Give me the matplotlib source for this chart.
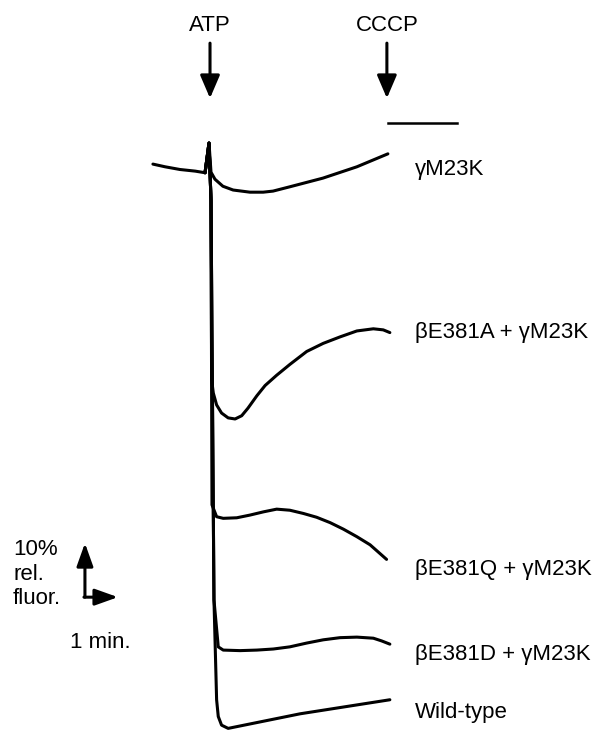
import matplotlib
matplotlib.use("Agg")
import matplotlib.pyplot as plt

plt.rcParams["font.family"] = ["Liberation Sans", "DejaVu Sans"]

# --- traces: time (min, ATP added at 0) vs relative fluorescence (%) ---
t_m23k = [-1.73, -1.36, -0.91, -0.45, -0.15, -0.03, 0.03, 0.15, 0.39, 0.70, 1.21,
          1.61, 1.91, 2.42, 3.42, 4.45, 5.39]
f_m23k = [104.8, 104.3, 103.8, 103.5, 103.2, 108.7, 103.3, 102.0, 100.7, 100.0, 99.6,
          99.6, 99.8, 100.6, 102.2, 104.3, 106.7]

t_e381a = [-0.15, -0.03, 0.03, 0.05, 0.10, 0.20, 0.35, 0.55, 0.76, 0.96, 1.15, 1.42,
           1.67, 2.02, 2.42, 2.93, 3.43, 3.94, 4.45, 4.95, 5.25, 5.45]
f_e381a = [103.2, 108.7, 98.1, 64.8, 62.4, 60.2, 58.7, 57.8, 57.6, 58.2, 59.6, 61.9,
           63.8, 65.7, 67.7, 70.1, 71.6, 72.8, 73.9, 74.3, 74.1, 73.6]

t_e381q = [-0.15, -0.03, 0.03, 0.06, 0.20, 0.40, 0.81, 1.21, 1.62, 2.02, 2.42, 2.83,
           3.23, 3.64, 4.04, 4.45, 4.85, 5.35]
f_e381q = [103.2, 108.7, 98.1, 41.7, 39.5, 39.2, 39.3, 39.8, 40.4, 40.9, 40.7, 40.1,
           39.4, 38.4, 37.2, 35.8, 34.3, 31.6]

t_e381d = [-0.15, -0.03, 0.03, 0.12, 0.25, 0.40, 0.91, 1.42, 1.92, 2.42, 2.93, 3.43,
           3.94, 4.45, 4.95, 5.20, 5.45]
f_e381d = [103.2, 108.7, 98.1, 24.1, 15.4, 14.8, 14.7, 14.8, 15.0, 15.4, 16.1, 16.7,
           17.1, 17.2, 17.0, 16.5, 15.9]

t_wt = [-0.15, -0.03, 0.03, 0.12, 0.20, 0.25, 0.35, 0.55, 2.73, 5.45]
f_wt = [103.2, 108.7, 98.1, 24.1, 5.6, 2.5, 0.9, 0.3, 3.0, 5.6]

traces = [
    (t_m23k, f_m23k, "\u03b3M23K", 102.8),
    (t_e381a, f_e381a, "\u03b2E381A + \u03b3M23K", 72.6),
    (t_e381q, f_e381q, "\u03b2E381Q + \u03b3M23K", 28.7),
    (t_e381d, f_e381d, "\u03b2E381D + \u03b3M23K", 13.0),
    (t_wt, f_wt, "Wild-type", 2.2),
]

# additions (min)
t_atp = 0.0
t_cccp = 5.36

fig = plt.figure(figsize=(6, 7.3), dpi=100)
ax = fig.add_axes([0, 0, 1, 1])
ax.set_xlim(-6.364, 11.818)
ax.set_ylim(0, 135.19)
ax.axis("off")

for t, f, name, ylab in traces:
    ax.plot(t, f, color="black", lw=2.2, solid_joinstyle="round", solid_capstyle="round")
    ax.text(6.21, ylab, name, fontsize=16, va="baseline", ha="left")

# addition arrows
arrow_big = dict(arrowstyle="-|>,head_length=14,head_width=6", mutation_scale=1,
                 color="black", lw=2.2, shrinkA=0, shrinkB=0)
for t0, lab in [(t_atp, "ATP"), (t_cccp, "CCCP")]:
    ax.annotate("", xy=(t0, 117.0), xytext=(t0, 127.2), arrowprops=arrow_big)
    ax.text(t0, 129.5, lab, fontsize=16, ha="center", va="baseline")

# CCCP bar
ax.plot([5.39, 7.48], [112.4, 112.4], color="black", lw=1.8)

# scale bar: 10 % and 1 min
sx, sy = -3.79, 24.6
arrow_small = dict(arrowstyle="-|>,head_length=14,head_width=5", mutation_scale=1,
                   color="black", lw=2.2, shrinkA=0, shrinkB=0)
ax.annotate("", xy=(sx, sy + 10), xytext=(sx, sy), arrowprops=arrow_small)
ax.annotate("", xy=(sx + 1, sy), xytext=(sx - 0.03, sy), arrowprops=arrow_small)
ax.text(-5.97, 32.4, "10%", fontsize=16, va="baseline")
ax.text(-5.97, 27.8, "rel.", fontsize=16, va="baseline")
ax.text(-5.97, 23.3, "fluor.", fontsize=16, va="baseline")
ax.text(-4.24, 15.2, "1 min.", fontsize=16, va="baseline")

fig.savefig("out.png", dpi=100)
